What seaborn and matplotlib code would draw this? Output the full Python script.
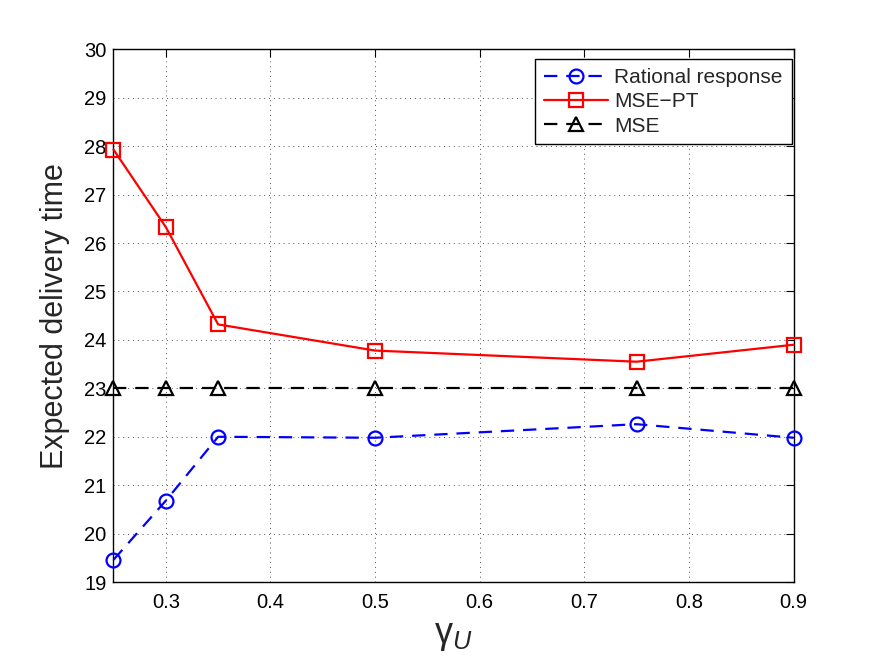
import numpy as np
import pandas as pd
import matplotlib
matplotlib.use("Agg")
import matplotlib.pyplot as plt
import seaborn as sns

# values
gamma_u = [0.25, 0.3, 0.35, 0.5, 0.75, 0.9]
rational = [19.46, 20.68, 22.0, 21.98, 22.26, 21.98]
mse_pt = [27.93, 26.33, 24.32, 23.78, 23.55, 23.9]
mse = [23.0, 23.0, 23.0, 23.0, 23.0, 23.0]

x_ticks = [0.3, 0.4, 0.5, 0.6, 0.7, 0.8, 0.9]
y_ticks = list(range(19, 31))

sns.set_style("white")
plt.rcParams['font.family'] = ['Liberation Sans', 'DejaVu Sans']
plt.rcParams['mathtext.fontset'] = 'custom'
plt.rcParams['mathtext.rm'] = 'Liberation Sans'
plt.rcParams['mathtext.it'] = 'Liberation Sans:italic'

fig = plt.figure(figsize=(8.73, 6.57), dpi=100)
ax = fig.add_axes([0.13, 0.114, 0.779, 0.811])

series = [
    ("Rational response", rational, "#0000ff", (0, (6, 4)), "o"),
    ("MSE\u2212PT", mse_pt, "#ff0000", "-", "s"),
    ("MSE", mse, "#000000", (0, (6, 4)), "^"),
]
for name, vals, col, ls, mk in series:
    df = pd.DataFrame({"gamma": gamma_u, "val": vals})
    sns.lineplot(data=df, x="gamma", y="val", ax=ax, color=col, ls=ls,
                 lw=1.6, marker=mk, markersize=10, markerfacecolor="none",
                 markeredgecolor=col, markeredgewidth=1.6, label=name,
                 clip_on=False, zorder=3)

ax.set_xlim(0.25, 0.9)
ax.set_ylim(19, 30)
ax.set_xticks(x_ticks)
ax.set_xticklabels([f"{t:g}" for t in x_ticks])
ax.set_yticks(y_ticks)
ax.tick_params(direction="in", length=6, width=0.8, top=True, right=True,
               labelsize=14.5, colors="black")
ax.tick_params(axis="y", pad=5)
ax.tick_params(axis="x", pad=8)
ax.grid(True, ls=(0, (1, 4)), color="#555555", lw=0.7)
for sp in ax.spines.values():
    sp.set_visible(True)
    sp.set_color("black")
    sp.set_linewidth(1.0)

ax.set_xlabel(r"$\mathrm{\gamma}_{U}$", fontsize=26, labelpad=4)
ax.set_ylabel("Expected delivery time", fontsize=22, labelpad=10)

leg = ax.legend(loc="upper right", bbox_to_anchor=(0.997, 0.981),
                borderaxespad=0, fontsize=15, handlelength=3.1,
                handletextpad=0.3, labelspacing=0.25, fancybox=False,
                framealpha=1, edgecolor="black", borderpad=0.42)
leg.get_frame().set_linewidth(1.0)

fig.savefig("out.png", dpi=100)
